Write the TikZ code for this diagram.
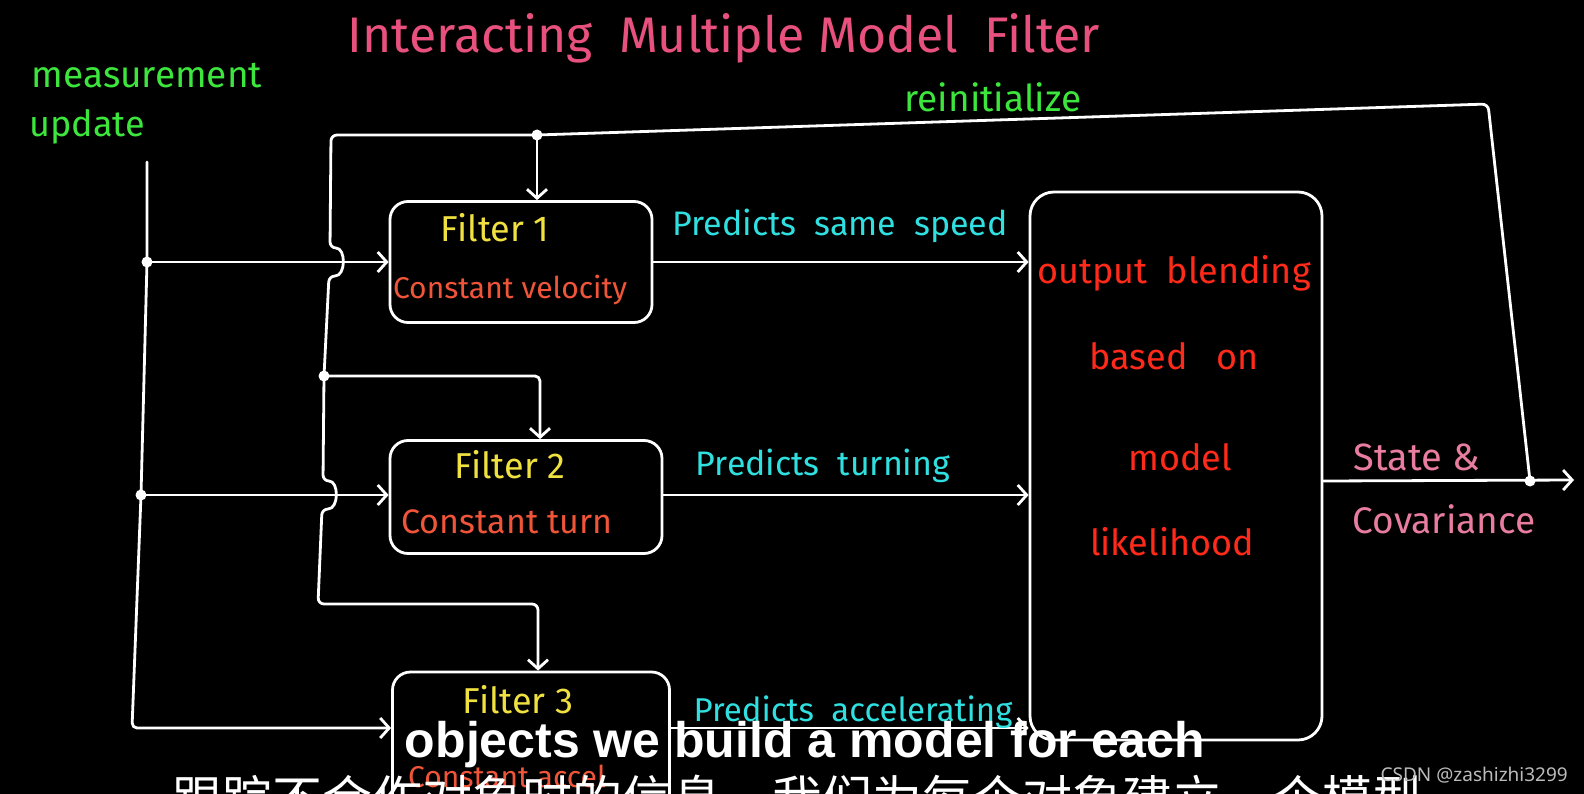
\documentclass[tikz,border=0pt]{standalone}
\usepackage{fontspec}
\setmainfont{Fira Sans}
\newfontfamily\subfont{Liberation Sans}
\newfontfamily\cjkfont{Noto Sans CJK SC}
\newfontfamily\wmfont{Noto Sans}
\usetikzlibrary{arrows.meta}
\definecolor{ctitle}{HTML}{E8507E}
\definecolor{cgreen}{HTML}{3CE63C}
\definecolor{cyel}{HTML}{F0E040}
\definecolor{corange}{HTML}{F0553A}
\definecolor{ccyan}{HTML}{30E0E0}
\definecolor{cred}{HTML}{FF2A1A}
\definecolor{cpink}{HTML}{E87DA0}
\definecolor{cwm}{HTML}{BBBBBB}
\newcommand\hs[1]{\fontsize{#1}{#1}\selectfont}
\begin{document}
\begin{tikzpicture}[x=1pt,y=-1pt,
  wire/.style={draw=white, line width=2.8pt, line cap=round, line join=round},
  arr/.style={wire, -{Straight Barb[length=9pt,width=20pt]}},
  fbox/.style={draw=white, line width=2.8pt, rounded corners=18pt, inner sep=0pt},
  txt/.style={inner sep=0pt},
  dot/.style={fill=white}]
\fill[black] (0,0) rectangle (1584,794);
\useasboundingbox (0,0) rectangle (1584,794);
\clip (0,0) rectangle (1584,794);

% title and side labels
\node[txt, text=ctitle, font=\hs{50}] (title) at (724,38) {Interacting\ \ Multiple Model\ \ Filter};
\node[txt, text=cgreen, font=\hs{37}] (meas) at (147,76) {measurement};
\node[txt, text=cgreen, font=\hs{36}] (upd) at (87,127) {update};
\node[txt, text=cgreen, font=\hs{37}] (reinit) at (993,97) {reinitialize};

% filter boxes
\node[fbox, minimum width=262pt, minimum height=121pt] (f1) at (521,262) {};
\node[fbox, minimum width=272pt, minimum height=113pt] (f2) at (526,497) {};
\node[fbox, minimum width=277pt, minimum height=150pt] (f3) at (531,747) {};
\node[txt, text=cyel, font=\hs{36}] (f1a) at (495,228) {Filter 1};
\node[txt, text=corange, font=\hs{30}] (f1b) at (510,290) {Constant velocity};
\node[txt, text=cyel, font=\hs{36}] (f2a) at (510,465) {Filter 2};
\node[txt, text=corange, font=\hs{34}] (f2b) at (507,522) {Constant turn};
\node[txt, text=cyel, font=\hs{36}] (f3a) at (518,700) {Filter 3};
\node[txt, text=corange, font=\hs{30}] (f3b) at (507,776) {Constant accel};

% blending box
\node[fbox, rounded corners=24pt, minimum width=292pt, minimum height=548pt] (ob) at (1176,466) {};
\node[txt, text=cred, font=\hs{36}] (ob1) at (1174,273) {output\ \ blending};
\node[txt, text=cred, font=\hs{36}] (ob2) at (1174,356) {based\ \ \ on};
\node[txt, text=cred, font=\hs{36}] (ob3) at (1180,457) {model};
\node[txt, text=cred, font=\hs{36}] (ob4) at (1172,542) {likelihood};

% coordinates
\coordinate (mtop) at (147,162);
\coordinate (m1) at (147,262);
\coordinate (m2) at (141,495);
\coordinate (mb) at (132,728);
\coordinate (r) at (1530,481);
\coordinate (rt) at (1488,104);
\coordinate (t1) at (537,135);
\coordinate (tl) at (331,135);
\coordinate (j2) at (324,376);
\coordinate (j2r) at (540,376);
\coordinate (bl) at (318,604);
\coordinate (br) at (538,604);
\coordinate (outend) at (1574,480);

% measurement feed
\draw[arr, rounded corners=5pt] (mtop) -- (m1) -- (m2) -- (mb) -- (f3.west |- mb);
\draw[arr] (m1) -- (f1.west |- m1);
\draw[arr] (m2) -- (f2.west |- m2);

% reinitialize loop
\draw[arr, rounded corners=6pt] (r) -- (rt) -- (t1) -- (tl) -- (330,248)
  .. controls (346,248) and (346,276) .. (329,276)
  -- (j2) -- (323,481)
  .. controls (339,481) and (339,509) .. (322,509)
  -- (bl) -- (br) -- (br |- f3.north);
\draw[arr] (t1) -- (t1 |- f1.north);
\draw[arr, rounded corners=5pt] (j2) -- (j2r) -- (j2r |- f2.north);

% filter outputs
\draw[arr] (f1.east) -- (ob.west |- f1.east);
\draw[arr] (f2.east |- m2) -- (ob.west |- m2);
\draw[arr] (f3.east |- mb) -- (ob.west |- mb);
\node[txt, text=ccyan, font=\hs{34}] (p1) at (840,226) {Predicts\ \ same\ \ speed};
\node[txt, text=ccyan, font=\hs{34}] (p2) at (823,466) {Predicts\ \ turning};
\node[txt, text=ccyan, font=\hs{33}] (p3) at (853,712) {Predicts\ \ accelerating};

% output
\draw[arr] (ob.east |- r) -- (outend);
\node[txt, text=cpink, font=\hs{38}] (st) at (1417,457) {State \&};
\node[txt, text=cpink, font=\hs{37}] (cov) at (1444,519) {Covariance};

% dots
\fill[dot] (m1) circle (5.5pt);
\fill[dot] (m2) circle (5.5pt);
\fill[dot] (t1) circle (5.5pt);
\fill[dot] (j2) circle (5.5pt);
\fill[dot] (r) circle (5.5pt);

% subtitles and watermark
\node[txt, anchor=base, text=white, font=\subfont\bfseries\hs{50}] (sub) at (805,757) {objects we build a model for each};
\node[txt, anchor=base west, text=white, font=\cjkfont\hs{50}] (subcn) at (172,817) {跟踪不合作对象时的信息，我们为每个对象建立一个模型};
\node[txt, anchor=base east, text=cwm, font=\wmfont\hs{19}] (wm) at (1568,781) {CSDN @zashizhi3299};
\end{tikzpicture}
\end{document}
